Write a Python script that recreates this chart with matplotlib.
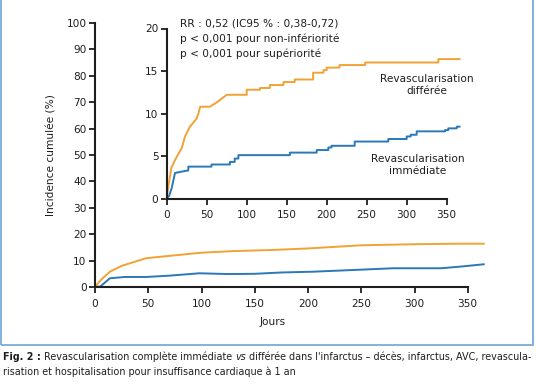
import matplotlib
matplotlib.use("Agg")
import matplotlib.pyplot as plt
from matplotlib.patches import Rectangle

plt.rcParams['font.family'] = ['DejaVu Sans']

# ---------------- data ----------------
# main panel (smoothed curves)
main_days_diff = [0, 5, 14, 25, 48, 70, 100, 130, 165, 200, 250, 300, 340, 365]
main_vals_diff = [0, 2.5, 5.8, 8.0, 10.9, 11.8, 13.0, 13.6, 14.0, 14.6, 15.8, 16.2, 16.4, 16.4]
main_days_imm = [0, 5, 14, 28, 48, 70, 98, 125, 150, 175, 205, 240, 280, 325, 345, 365]
main_vals_imm = [0, 0.2, 3.3, 3.8, 3.8, 4.3, 5.2, 4.9, 5.0, 5.5, 5.8, 6.4, 7.1, 7.1, 7.8, 8.6]

# inset (Kaplan-Meier outline, vertices)
ins_days_diff = [0, 2, 6, 12.5, 18.7, 22.9, 29, 37.5, 39.6, 41.6, 42, 54, 62.5, 75, 100, 100,
                 116.6, 116.6, 129, 129, 146, 146, 160, 160, 183, 183, 196, 196, 200, 200,
                 216, 216, 248, 248, 339.6, 339.6, 366]
ins_vals_diff = [0, 1.4, 3.7, 4.9, 5.9, 7.3, 8.45, 9.4, 10.0, 10.7, 10.8, 10.8, 11.3, 12.2, 12.2, 12.8,
                 12.8, 13.0, 13.0, 13.35, 13.35, 13.7, 13.7, 14.0, 14.0, 14.8, 14.8, 15.1, 15.1, 15.4,
                 15.4, 15.7, 15.7, 16.0, 16.0, 16.4, 16.4]
ins_days_imm = [0, 3, 6.2, 10.4, 20.8, 27, 27, 56, 56, 79, 79, 85, 85, 89.6, 89.6, 154, 154,
                187.5, 187.5, 202, 202, 206, 206, 235, 235, 277, 277, 300, 300, 305, 305,
                312.5, 312.5, 348, 348, 352, 352, 362.5, 362.5, 366]
ins_vals_imm = [0, 0.3, 1.2, 3.0, 3.2, 3.3, 3.75, 3.75, 4.0, 4.0, 4.3, 4.3, 4.7, 4.7, 5.1, 5.1, 5.4,
                5.4, 5.7, 5.7, 6.0, 6.0, 6.2, 6.2, 6.7, 6.7, 7.0, 7.0, 7.3, 7.3, 7.5,
                7.5, 7.9, 7.9, 8.05, 8.05, 8.25, 8.25, 8.45, 8.45]

main_yticks = [0, 10, 20, 30, 40, 50, 60, 70, 80, 90, 100]
main_xticks = [0, 50, 100, 150, 200, 250, 300, 350]
ins_yticks = [0, 5, 10, 15, 20]
ins_xticks = [0, 50, 100, 150, 200, 250, 300, 350]

stats_lines = ["RR : 0,52 (IC95 % : 0,38-0,72)",
               "p < 0,001 pour non-infériorité",
               "p < 0,001 pour supériorité"]
label_diff = "Revascularisation\ndifférée"
label_imm = "Revascularisation\nimmédiate"
ylabel = "Incidence cumulée (%)"
xlabel = "Jours"

ORANGE = "#f0a235"
BLUE = "#2a78b8"
INK = "#1e1e1e"
W, H = 536, 386

fig = plt.figure(figsize=(W / 100, H / 100), dpi=100)

def fx(px):
    return px / W

def fy(py):
    return 1 - py / H

TS = 7.6

def style_axes(ax, xmax_spine, ymax):
    for s in ['top', 'right']:
        ax.spines[s].set_visible(False)
    for s in ['left', 'bottom']:
        ax.spines[s].set_linewidth(1.5)
        ax.spines[s].set_color(INK)
    ax.spines['bottom'].set_bounds(0, xmax_spine)
    ax.spines['left'].set_bounds(0, ymax)
    ax.tick_params(direction='out', length=4, width=1.3, labelsize=TS, colors=INK, pad=2)
    ax.tick_params(axis='x', pad=4.5)

# main axes
ax = fig.add_axes([fx(95), fy(287), fx(370 * 1.065), 264 / H])
ax.set_xlim(0, 370)
ax.set_ylim(0, 100)
ax.plot(main_days_diff, main_vals_diff, color=ORANGE, lw=1.4, clip_on=False)
ax.plot(main_days_imm, main_vals_imm, color=BLUE, lw=1.4, clip_on=False)
ax.set_xticks(main_xticks)
ax.set_yticks(main_yticks)
style_axes(ax, 350, 100)
ax.set_facecolor('none')

# inset axes
axi = fig.add_axes([fx(166.7), fy(198.5), fx(370 * 0.8), 170 / H])
axi.set_xlim(0, 370)
axi.set_ylim(0, 20)
axi.set_facecolor('white')
axi.plot(ins_days_diff, ins_vals_diff, color=ORANGE, lw=1.4, clip_on=False)
axi.plot(ins_days_imm, ins_vals_imm, color=BLUE, lw=1.4, clip_on=False)
axi.set_xticks(ins_xticks)
axi.set_yticks(ins_yticks)
style_axes(axi, 350, 20)

# texts
fig.text(fx(52), fy(155), ylabel, rotation=90, ha='center', va='center', fontsize=TS, color=INK)
fig.text(fx(273), fy(322), xlabel, ha='center', va='center', fontsize=TS, color=INK)
for i, line in enumerate(stats_lines):
    fig.text(fx(180), fy(23.5 + i * 15), line, ha='left', va='center', fontsize=TS, color=INK)
fig.text(fx(427), fy(85), label_diff, ha='center', va='center', fontsize=TS, color=INK,
         linespacing=1.25, multialignment='center')
fig.text(fx(418), fy(165.5), label_imm, ha='center', va='center', fontsize=TS, color=INK,
         linespacing=1.25, multialignment='center')

# border frame (top edge lies outside the picture)
fig.patches.append(Rectangle((fx(1), fy(345)), fx(532), 360 / H, transform=fig.transFigure,
                             fill=False, edgecolor='#7aaadb', lw=1.3))

# caption (first line fitted to the frame width)
renderer = fig.canvas.get_renderer()
cap_parts1 = [("Fig. 2 : ", 'bold', 'normal'),
              ("Revascularisation complète immédiate ", 'normal', 'normal'),
              ("vs", 'normal', 'italic'),
              (" différée dans l'infarctus – décès, infarctus, AVC, revascula-", 'normal', 'normal')]
cap_line2 = "risation et hospitalisation pour insuffisance cardiaque à 1 an"

def draw_line1(size):
    objs = []
    x = fx(3)
    for txt, wgt, sty in cap_parts1:
        t = fig.text(x, fy(357), txt, ha='left', va='center', fontsize=size, fontweight=wgt,
                     fontstyle=sty, color=INK)
        objs.append(t)
        x += t.get_window_extent(renderer).width / W
    return objs, x * W - 3

CS = 7.0
objs, width = draw_line1(CS)
for o in objs:
    o.remove()
CS = CS * 529.0 / width
draw_line1(CS)
fig.text(fx(3), fy(372), cap_line2, ha='left', va='center', fontsize=CS, color=INK)

fig.savefig("out.png", dpi=100)
